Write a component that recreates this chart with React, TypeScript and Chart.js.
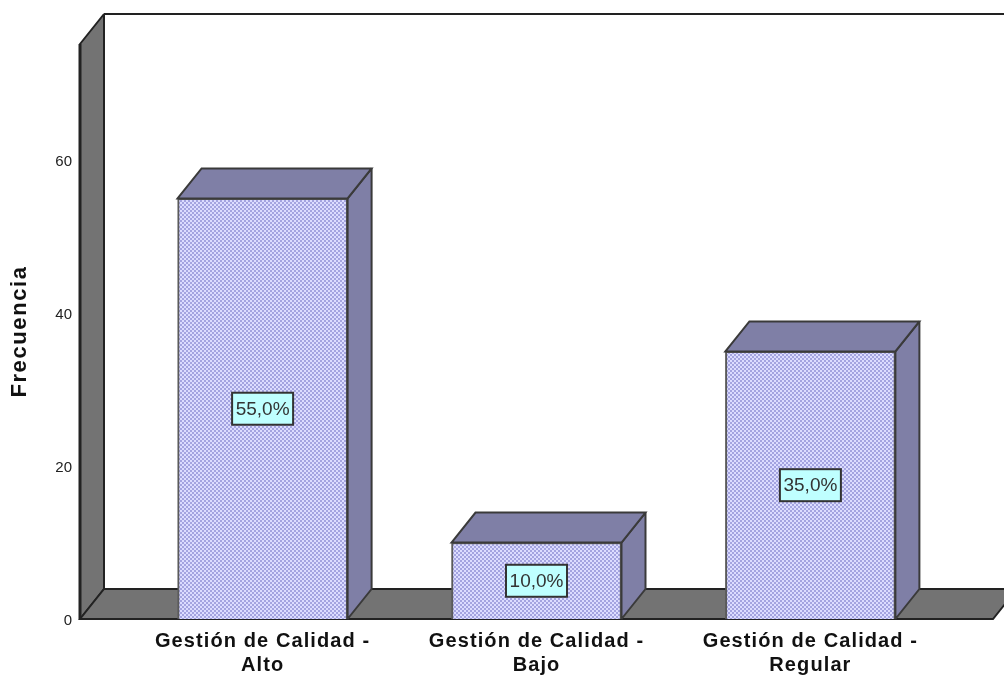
import React, { useEffect, useRef } from "react";
import { Chart, registerables } from "chart.js";

Chart.register(...registerables);

const categories = [
  ["Gestión de Calidad -", "Alto"],
  ["Gestión de Calidad -", "Bajo"],
  ["Gestión de Calidad -", "Regular"],
];
const categoryPositions = [0, 1, 2];
const frequencies = [55, 10, 35];
const percentLabels = ["55,0%", "10,0%", "35,0%"];
const yTicks = [0, 20, 40, 60];

const DX = 24;
const DY = -30;
const FONT = '"Liberation Sans", Arial, sans-serif';

function makePattern(ctx: CanvasRenderingContext2D) {
  const c = document.createElement("canvas");
  c.width = 4;
  c.height = 4;
  const p = c.getContext("2d")!;
  p.fillStyle = "#dcdcff";
  p.fillRect(0, 0, 4, 4);
  p.fillStyle = "#a4a4e0";
  p.fillRect(0, 0, 2, 2);
  p.fillRect(2, 2, 2, 2);
  return ctx.createPattern(c, "repeat")!;
}

function poly(ctx: CanvasRenderingContext2D, pts: number[][], fill: string, stroke: string, lw = 2) {
  ctx.beginPath();
  pts.forEach(([x, y], i) => (i ? ctx.lineTo(x, y) : ctx.moveTo(x, y)));
  ctx.closePath();
  ctx.fillStyle = fill;
  ctx.fill();
  ctx.lineWidth = lw;
  ctx.strokeStyle = stroke;
  ctx.lineJoin = "miter";
  ctx.miterLimit = 3;
  ctx.stroke();
}

function spaced(ctx: any, scale: any, method: string, spacing: string) {
  const orig = scale[method];
  scale[method] = function (...args: any[]) {
    ctx.letterSpacing = spacing;
    orig.apply(this, args);
    ctx.letterSpacing = "0px";
  };
}

const frame3d = {
  id: "frame3d",
  afterLayout(chart: any) {
    spaced(chart.ctx, chart.scales.x, "drawLabels", "1.1px");
    spaced(chart.ctx, chart.scales.y, "drawTitle", "1.6px");
  },
  beforeDatasetsDraw(chart: any) {
    const { ctx, chartArea: a } = chart;
    ctx.save();
    ctx.strokeStyle = "#222";
    ctx.lineWidth = 2;
    ctx.beginPath();
    ctx.moveTo(a.left + DX, a.top + DY);
    ctx.lineTo(a.right + DX, a.top + DY);
    ctx.stroke();
    poly(ctx, [[a.left, a.top], [a.left + DX, a.top + DY], [a.left + DX, a.bottom + DY], [a.left, a.bottom]], "#737373", "#222");
    poly(ctx, [[a.left, a.bottom], [a.left + DX, a.bottom + DY], [a.right + DX, a.bottom + DY], [a.right, a.bottom]], "#737373", "#222");
    ctx.beginPath();
    ctx.moveTo(a.left, a.top);
    ctx.lineTo(a.left, a.bottom);
    ctx.lineWidth = 3;
    ctx.stroke();
    ctx.restore();
  },
  afterDatasetsDraw(chart: any) {
    const { ctx } = chart;
    const meta = chart.getDatasetMeta(0);
    ctx.save();
    meta.data.forEach((bar: any, i: number) => {
      const l = bar.x - bar.width / 2;
      const r = bar.x + bar.width / 2;
      const t = bar.y;
      const b = bar.base;
      poly(ctx, [[r, t], [r + DX, t + DY], [r + DX, b + DY], [r, b]], "#7f7fa6", "#3a3a3a");
      poly(ctx, [[l, t], [l + DX, t + DY], [r + DX, t + DY], [r, t]], "#7f7fa6", "#3a3a3a");
      const cy = (t + b) / 2;
      const w = 61;
      const h = 32;
      ctx.fillStyle = "#bfffff";
      ctx.fillRect(bar.x - w / 2, cy - h / 2, w, h);
      ctx.strokeStyle = "#333";
      ctx.lineWidth = 2;
      ctx.strokeRect(bar.x - w / 2, cy - h / 2, w, h);
      ctx.fillStyle = "#333";
      ctx.font = `19px ${FONT}`;
      ctx.textAlign = "center";
      ctx.textBaseline = "middle";
      ctx.fillText(percentLabels[i], bar.x, cy + 1);
    });
    ctx.restore();
  },
};

export default function App() {
  const ref = useRef<HTMLCanvasElement>(null);
  useEffect(() => {
    document.body.style.margin = "0";
    const ctx = ref.current!.getContext("2d")!;
    const chart = new Chart(ctx, {
      type: "bar",
      data: {
        datasets: [
          {
            data: categoryPositions.map((x, i) => ({ x, y: frequencies[i] })),
            backgroundColor: makePattern(ctx),
            borderColor: "#5a5a5a",
            borderWidth: 2,
            barThickness: 170,
          },
        ],
      },
      plugins: [frame3d],
      options: {
        responsive: false,
        animation: false,
        layout: { padding: { top: 44, right: 11, left: 0, bottom: 0 } },
        plugins: { legend: { display: false }, tooltip: { enabled: false } },
        scales: {
          x: {
            type: "linear",
            offset: false,
            min: -2 / 3,
            max: 8 / 3,
            grid: { display: false, drawTicks: false },
            border: { display: false },
            afterBuildTicks: (s: any) => {
              s.ticks = categoryPositions.map((value) => ({ value }));
            },
            afterFit: (s: any) => {
              s.height = 56;
            },
            ticks: {
              autoSkip: false,
              maxRotation: 0,
              padding: 10,
              color: "#111",
              font: { family: FONT, size: 20, weight: "bold", lineHeight: 1.2 },
              callback: (v: any) => categories[v as number],
            },
          },
          y: {
            min: 0,
            max: 75.2,
            grid: { display: false, drawTicks: false },
            border: { display: false },
            afterBuildTicks: (s: any) => {
              s.ticks = yTicks.map((value) => ({ value }));
            },
            afterFit: (s: any) => {
              s.width = 80;
            },
            ticks: { padding: 8, labelOffset: 2, color: "#222", font: { family: FONT, size: 15 } },
            title: {
              display: true,
              text: "Frecuencia",
              color: "#111",
              font: { family: FONT, size: 22, weight: "bold" },
              padding: { top: 7, bottom: 0 },
            },
          },
        },
      },
    } as any);
    return () => chart.destroy();
  }, []);
  return <canvas ref={ref} width={1004} height={675} style={{ display: "block" }} />;
}
